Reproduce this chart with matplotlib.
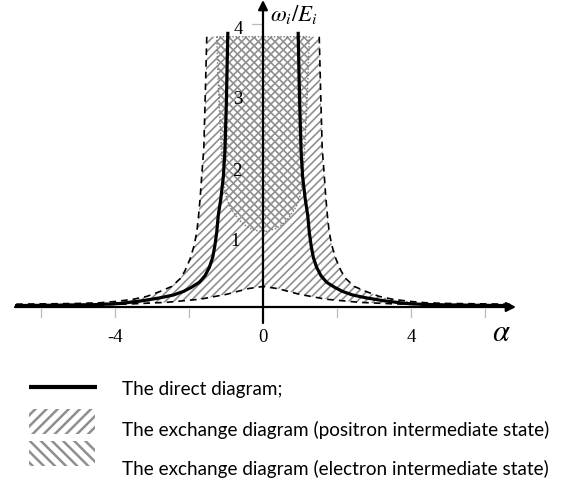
import numpy as np
import matplotlib
matplotlib.use("Agg")
import matplotlib.pyplot as plt
from matplotlib.patches import Polygon, Rectangle
from matplotlib.lines import Line2D

# ---------------- data (left half; chart is symmetric in alpha) ----------------
direct_alpha = np.array([-0.95, -0.99, -1.03, -1.07, -1.14, -1.21, -1.25, -1.30, -1.36, -1.45,
                         -1.57, -1.72, -1.93, -2.15, -2.42, -2.78, -3.24, -3.86, -4.4,
                         -5.2, -6.0, -6.7])
direct_omega = np.array([3.89, 2.9, 2.19, 1.85, 1.53, 1.29, 1.06, 0.87, 0.70, 0.56,
                         0.44, 0.35, 0.28, 0.22, 0.17, 0.13, 0.09, 0.05, 0.035,
                         0.028, 0.023, 0.02])

positron_upper_alpha = np.array([-1.52, -1.56, -1.60, -1.65, -1.70, -1.75, -1.79, -1.86, -1.97,
                                 -2.11, -2.24, -2.47, -2.78, -3.14, -3.5, -3.95, -4.4, -5.0,
                                 -5.8, -6.7])
positron_upper_omega = np.array([3.82, 3.0, 2.24, 1.9, 1.53, 1.24, 1.06, 0.87, 0.68,
                                 0.51, 0.40, 0.29, 0.22, 0.15, 0.11, 0.08, 0.06, 0.05,
                                 0.045, 0.04])

positron_lower_alpha = np.array([0.0, -0.4, -0.98, -1.7, -2.6, -3.5, -4.5, -5.5, -6.7])
positron_lower_omega = np.array([0.29, 0.26, 0.18, 0.11, 0.066, 0.045, 0.03, 0.02, 0.015])

electron_alpha = np.array([-1.25, -1.22, -1.18, -1.14, -1.11, -1.07, -0.98, -0.90, -0.80,
                           -0.66, -0.53, -0.35, -0.17, 0.0])
electron_omega = np.array([3.82, 3.3, 2.8, 2.4, 2.1, 1.76, 1.53, 1.42, 1.34,
                           1.24, 1.17, 1.11, 1.08, 1.06])

x_tick_labels = ["-4", "0", "4"]
x_tick_values = [-4, 0, 4]
x_tick_marks = [-6, -4, -2, 2, 4, 6]
y_tick_labels = ["1", "2", "3", "4"]
y_tick_values = [1, 2, 3, 4]

legend_texts = ["The direct diagram;",
                "The exchange diagram (positron intermediate state)",
                "The exchange diagram (electron intermediate state)"]

# ---------------- figure ----------------
W, H = 570, 485
fig = plt.figure(figsize=(W / 100, H / 100), dpi=100)
ax = fig.add_axes([0, 0, 1, 1])
ax.set_axis_off()

x0_px, y0_px = 263, 308
sx, sy = 37.0, 70.75
ax.set_xlim(-x0_px / sx, (W - x0_px) / sx)
ax.set_ylim(-(H - y0_px) / sy, y0_px / sy)

def fx(px):
    return px / W

def fy(py):
    return 1 - py / H

hatch_col = "#8f8f8f"

# positron region polygon (///)
pos_x = np.concatenate([positron_upper_alpha[::-1], -positron_upper_alpha,
                        -positron_lower_alpha[::-1], positron_lower_alpha[1:]])
pos_y = np.concatenate([positron_upper_omega[::-1], positron_upper_omega,
                        positron_lower_omega[::-1], positron_lower_omega[1:]])
with plt.rc_context({"hatch.linewidth": 1.2}):
    ax.add_patch(Polygon(np.column_stack([pos_x, pos_y]), closed=True, facecolor="none",
                         edgecolor=hatch_col, lw=0, hatch="////", zorder=1))

# electron region polygon (\\\)
el_x = np.concatenate([electron_alpha, -electron_alpha[::-1][1:]])
el_y = np.concatenate([electron_omega, electron_omega[::-1][1:]])
with plt.rc_context({"hatch.linewidth": 1.2}):
    ax.add_patch(Polygon(np.column_stack([el_x, el_y]), closed=True, facecolor="none",
                         edgecolor=hatch_col, lw=0, hatch="\\\\\\\\", zorder=1))

# dotted boundary of electron region
ax.plot(np.append(el_x, el_x[0]), np.append(el_y, el_y[0]), color="#777777", lw=1.0,
        linestyle=(0, (1, 1.3)), zorder=2)

# dashed boundaries of positron region
dash = dict(color="black", lw=1.2, linestyle=(0, (4, 3)), zorder=3)
ax.plot(positron_upper_alpha, positron_upper_omega, **dash)
ax.plot(-positron_upper_alpha, positron_upper_omega, **dash)
low_x = np.concatenate([positron_lower_alpha[::-1], -positron_lower_alpha[1:]])
low_y = np.concatenate([positron_lower_omega[::-1], positron_lower_omega[1:]])
ax.plot(low_x, low_y, **dash)

# direct diagram
ax.plot(direct_alpha, direct_omega, color="black", lw=2.3, zorder=4, solid_capstyle="butt",
        solid_joinstyle="round")
ax.plot(-direct_alpha, direct_omega, color="black", lw=2.3, zorder=4, solid_capstyle="butt",
        solid_joinstyle="round")

# axes with arrows
ax.annotate("", xy=((516 - x0_px) / sx, 0), xytext=((15 - x0_px) / sx, 0),
            arrowprops=dict(arrowstyle="-|>", color="black", lw=1.6, mutation_scale=14,
                            shrinkA=0, shrinkB=0), zorder=5)
ax.annotate("", xy=(0, (y0_px - 1) / sy), xytext=(0, -(324 - y0_px) / sy),
            arrowprops=dict(arrowstyle="-|>", color="black", lw=1.6, mutation_scale=14,
                            shrinkA=0, shrinkB=0), zorder=5)

# tick marks
for t in x_tick_marks:
    ax.plot([t, t], [-(310 - y0_px) / sy, -(318 - y0_px) / sy], color="#bbbbbb", lw=0.9, zorder=2)
ax.plot([-(263 - 252) / sx, -0.03], [4, 4], color="#bbbbbb", lw=0.9, zorder=2)

serif = ["Liberation Serif", "DejaVu Serif"]
for v, lab in zip(x_tick_values, x_tick_labels):
    ax.text(v, -(338 - y0_px) / sy, lab, ha="center", va="center", fontsize=13.5, family=serif)
y_label_px = [(235, 242), (237, 172), (238, 100), (238, 30)]
for (px, py), lab in zip(y_label_px, y_tick_labels):
    ax.text((px - x0_px) / sx, (y0_px - py) / sy, lab, ha="center", va="center",
            fontsize=13.5, family=serif, zorder=6)

plt.rcParams["mathtext.fontset"] = "stix"
ax.text((501 - x0_px) / sx, -(333 - y0_px) / sy, r"$\alpha$", ha="center", va="center",
        fontsize=22)
ax.text((270 - x0_px) / sx, (y0_px - 15) / sy, r"$\omega_i/E_i$", ha="left", va="center",
        fontsize=16.5)

# legend
fig.add_artist(Line2D([fx(29), fx(97)], [fy(387.5), fy(387.5)], color="black", lw=3.0,
                      solid_capstyle="butt"))
with plt.rc_context({"hatch.linewidth": 1.8}):
    fig.add_artist(Rectangle((fx(29), fy(435)), fx(95) - fx(29), (435 - 410) / H,
                             transform=fig.transFigure, facecolor="none", edgecolor=hatch_col,
                             lw=0, hatch="///"))
    fig.add_artist(Rectangle((fx(29), fy(466.7)), fx(95) - fx(29), (466.7 - 441.7) / H,
                             transform=fig.transFigure, facecolor="none", edgecolor=hatch_col,
                             lw=0, hatch="\\\\\\"))
for py, txt in zip([390, 430, 469], legend_texts):
    fig.text(fx(122), fy(py), txt, ha="left", va="center", fontsize=13.6,
             family=["Lato", "DejaVu Sans"])

fig.savefig("out.png", dpi=100, facecolor="white")
